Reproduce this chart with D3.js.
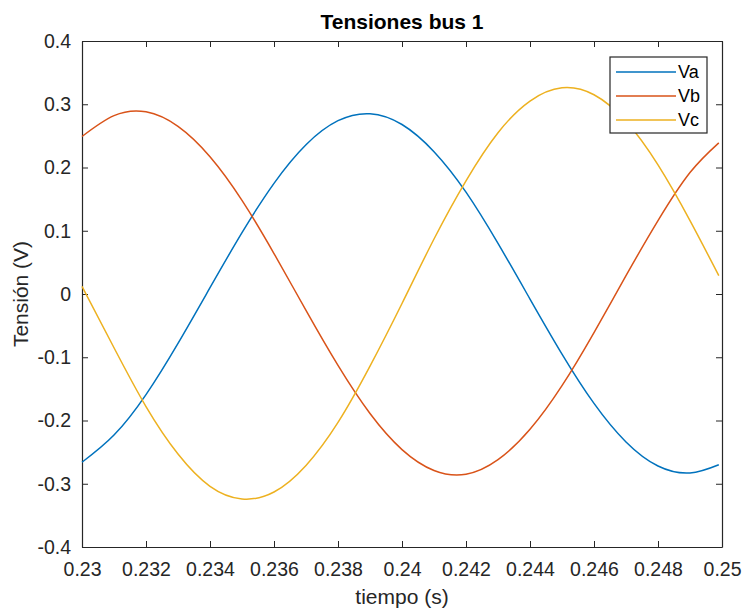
<!DOCTYPE html>
<html>
<head>
<meta charset="utf-8">
<script src="https://cdnjs.cloudflare.com/ajax/libs/d3/7.8.5/d3.min.js"></script>
<style>
  body { margin: 0; background: #fff; }
  svg { font-family: "Liberation Sans", Arial, Helvetica, sans-serif; }
  .tick text { fill: #262626; font-size: 19.5px; }
  .tick line, .domain { stroke: #262626; }
</style>
</head>
<body>
<svg id="plot" width="744" height="610"></svg>
<script>
// time samples (s)
const tiempo = [0.230, 0.231, 0.232, 0.233, 0.234, 0.235, 0.236, 0.237, 0.238, 0.239,
  0.240, 0.241, 0.242, 0.243, 0.244, 0.245, 0.246, 0.247, 0.248, 0.249, 0.2499];

// voltages
const va = [-0.266, -0.223, -0.159, -0.078, 0.010, 0.097, 0.175, 0.236, 0.274, 0.285,
  0.268, 0.225, 0.161, 0.080, -0.008, -0.095, -0.173, -0.234, -0.272, -0.283, -0.270];
const vb = [0.249, 0.282, 0.288, 0.265, 0.217, 0.148, 0.064, -0.026, -0.113, -0.189,
  -0.246, -0.279, -0.285, -0.262, -0.214, -0.145, -0.061, 0.029, 0.116, 0.192, 0.239];
const vc = [0.012, -0.085, -0.178, -0.253, -0.304, -0.324, -0.313, -0.271, -0.203, -0.114,
  -0.015, 0.087, 0.179, 0.255, 0.305, 0.326, 0.315, 0.273, 0.204, 0.116, 0.029];

const seriesNames = ['Va', 'Vb', 'Vc'];
const xTicks = [0.23, 0.232, 0.234, 0.236, 0.238, 0.24, 0.242, 0.244, 0.246, 0.248, 0.25];
const yTicks = [-0.4, -0.3, -0.2, -0.1, 0, 0.1, 0.2, 0.3, 0.4];

const colors = ['#0072BD', '#D95319', '#EDB120'];

const svg = d3.select('#plot');

const mLeft = 82, mRight = 722, mTop = 41, mBottom = 547;
const width = mRight - mLeft;
const height = mBottom - mTop;

const chart = svg.append('g')
  .attr('transform', `translate(${mLeft}, ${mTop})`);

const xScale = d3.scaleLinear()
  .domain([0.23, 0.25])
  .range([0, width]);

const yScale = d3.scaleLinear()
  .domain([-0.4, 0.4])
  .range([height, 0]);

const fmt = (d) => String(+d.toFixed(3));

// axes with inward ticks, box on all sides
chart.append('g')
  .attr('transform', `translate(0, ${height})`)
  .call(d3.axisBottom(xScale).tickValues(xTicks).tickFormat(fmt).tickSizeInner(-6).tickSizeOuter(0).tickPadding(15));

chart.append('g')
  .call(d3.axisLeft(yScale).tickValues(yTicks).tickFormat(fmt).tickSizeInner(-6).tickSizeOuter(0).tickPadding(11));

chart.append('g')
  .call(d3.axisTop(xScale).tickValues(xTicks).tickFormat('').tickSizeInner(-6).tickSizeOuter(0));

chart.append('g')
  .attr('transform', `translate(${width}, 0)`)
  .call(d3.axisRight(yScale).tickValues(yTicks).tickFormat('').tickSizeInner(-6).tickSizeOuter(0));

chart.selectAll('.domain').attr('stroke-width', 1.2);

const line = d3.line()
  .x((d) => xScale(d[0]))
  .y((d) => yScale(d[1]))
  .curve(d3.curveNatural);

const data = [va, vb, vc].map((vals) => tiempo.map((t, i) => [t, vals[i]]));

chart.selectAll('.serie')
  .data(data)
  .enter()
  .append('path')
  .attr('class', 'serie')
  .attr('fill', 'none')
  .attr('stroke', (d, i) => colors[i])
  .attr('stroke-width', 1.5)
  .attr('d', line);

// legend
const legend = svg.append('g')
  .attr('transform', 'translate(610, 57)');

legend.append('rect')
  .attr('width', 97)
  .attr('height', 76)
  .attr('fill', '#fff')
  .attr('stroke', '#262626')
  .attr('stroke-width', 1.2);

const items = legend.selectAll('.item')
  .data(seriesNames)
  .enter()
  .append('g')
  .attr('transform', (d, i) => `translate(0, ${15 + i * 24})`);

items.append('line')
  .attr('x1', 6)
  .attr('x2', 66)
  .attr('stroke', (d, i) => colors[i])
  .attr('stroke-width', 1.5);

items.append('text')
  .attr('x', 68)
  .attr('dy', '0.36em')
  .attr('font-size', 18)
  .attr('fill', '#000')
  .text((d) => d);

// labels
svg.append('text')
  .attr('x', mLeft + width / 2)
  .attr('y', 29)
  .attr('text-anchor', 'middle')
  .attr('font-size', 21)
  .attr('font-weight', 'bold')
  .attr('fill', '#000')
  .text('Tensiones bus 1');

svg.append('text')
  .attr('x', mLeft + width / 2)
  .attr('y', 604)
  .attr('text-anchor', 'middle')
  .attr('font-size', 21)
  .attr('fill', '#262626')
  .text('tiempo (s)');

svg.append('text')
  .attr('x', -(mTop + height / 2))
  .attr('y', 28)
  .attr('transform', 'rotate(-90)')
  .attr('text-anchor', 'middle')
  .attr('font-size', 21)
  .attr('fill', '#262626')
  .text('Tensión (V)');
</script>
</body>
</html>
